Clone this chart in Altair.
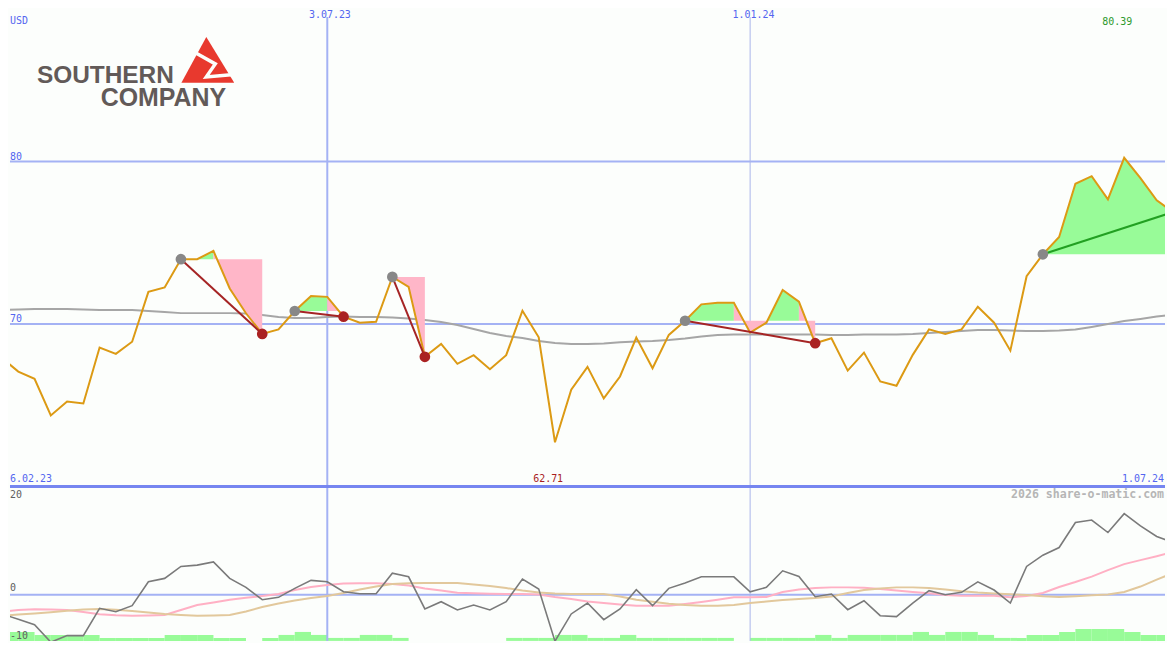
import altair as alt
import pandas as pd

W = 1175          # reference picture width
H_TOP = 487       # reference y of the panel separator
H_ALL = 650
M = 8             # page margin of the browser (both sides)
PW = W - 2 * M    # drawable panel width
H1 = H_TOP - M    # upper panel height
H2 = H_ALL - H_TOP - M   # lower panel height
PX_PER_USD = 16.3
PX_PER_OSC = 163 / 30.0

# weekly closes (USD), index 0..72
price = [67.90, 67.07, 66.63, 64.37, 65.23, 65.11, 68.55, 68.16, 68.91, 71.98,
         72.25, 73.99, 73.99, 74.50, 72.19, 70.66, 69.39, 69.67, 70.80, 71.72,
         71.67, 70.45, 70.08, 70.14, 72.90, 72.29, 67.98, 68.77, 67.55, 68.08,
         67.22, 68.08, 70.82, 69.18, 62.72, 65.95, 67.36, 65.42, 66.77, 69.16,
         67.28, 69.33, 70.20, 71.21, 71.31, 71.31, 69.47, 70.08, 72.09, 71.37,
         68.82, 69.12, 67.13, 68.24, 66.46, 66.20, 68.10, 69.67, 69.39, 69.67,
         71.06, 70.08, 68.36, 72.94, 74.29, 75.36, 78.63, 79.10, 77.67, 80.23,
         78.98, 77.61, 76.89]

# long moving average
ma = [70.86, 70.89, 70.92, 70.92, 70.92, 70.89, 70.86, 70.86, 70.86, 70.80,
      70.74, 70.67, 70.67, 70.67, 70.67, 70.64, 70.55, 70.43, 70.37, 70.37,
      70.43, 70.46, 70.43, 70.43, 70.40, 70.34, 70.25, 70.12, 69.94, 69.69,
      69.45, 69.26, 69.14, 68.96, 68.83, 68.77, 68.77, 68.80, 68.87, 68.93,
      68.96, 69.02, 69.11, 69.23, 69.33, 69.36, 69.36, 69.36, 69.36, 69.36,
      69.36, 69.33, 69.33, 69.36, 69.36, 69.36, 69.39, 69.45, 69.51, 69.57,
      69.63, 69.63, 69.60, 69.57, 69.57, 69.60, 69.66, 69.82, 70.00, 70.18,
      70.31, 70.46, 70.58]

# lower panel oscillators
osc = [-3.55, -4.53, -5.52, -8.76, -7.55, -7.55, -2.50, -3.13, -2.02, 2.39,
       3.02, 5.23, 5.47, 6.07, 3.02, 1.36, -0.92, -0.48, 1.18, 2.65,
       2.39, 0.55, 0.18, 0.18, 3.99, 3.31, -2.63, -1.29, -2.82, -1.90,
       -2.82, -1.29, 2.89, 1.05, -8.58, -3.55, -1.53, -4.60, -2.63, 0.92,
       -2.02, 1.18, 2.15, 3.31, 3.31, 3.31, 0.55, 1.36, 4.42, 3.39,
       -0.37, 0.13, -2.76, -1.10, -3.87, -4.05, -1.53, 0.74, 0.00, 0.44,
       2.39, 0.87, -1.53, 5.23, 7.31, 8.72, 13.33, 13.80, 11.49, 14.98,
       12.70, 10.75, 9.64]

osc_pink = [-3.13, -2.82, -2.69, -2.72, -2.82, -3.18, -3.59, -3.79, -3.87, -3.83,
            -3.74, -2.82, -1.90, -1.44, -0.92, -0.57, -0.24, 0.13, 0.87, 1.42,
            1.79, 2.08, 2.10, 2.10, 1.97, 1.69, 1.14, 0.77, 0.35, 0.26,
            0.17, 0.13, 0.13, 0.04, -0.42, -0.79, -1.25, -1.53, -1.80, -2.02,
            -2.02, -2.02, -1.71, -1.34, -0.92, -0.48, -0.48, -0.42, 0.50, 0.96,
            1.23, 1.36, 1.36, 1.27, 1.05, 0.77, 0.50, 0.26, -0.06, -0.18,
            -0.18, -0.20, -0.46, -0.24, 0.31, 1.42, 2.34, 3.35, 4.55, 5.65,
            6.39, 7.12, 7.91]

osc_tan = [-3.87, -3.64, -3.46, -3.24, -2.96, -2.72, -2.63, -2.76, -3.00, -3.28,
           -3.55, -3.74, -3.87, -3.83, -3.74, -3.09, -2.26, -1.62, -1.07, -0.61,
           -0.24, 0.31, 0.96, 1.51, 1.97, 2.12, 2.15, 2.15, 2.15, 1.91,
           1.60, 1.23, 0.77, 0.40, 0.22, 0.13, 0.13, 0.13, -0.33, -0.94,
           -1.31, -1.67, -1.90, -2.02, -2.02, -1.90, -1.53, -1.25, -0.98, -0.79,
           -0.61, -0.33, 0.31, 0.87, 1.14, 1.36, 1.36, 1.23, 0.96, 0.64,
           0.40, 0.24, 0.09, -0.06, -0.28, -0.42, -0.29, -0.11, 0.04, 0.50,
           1.51, 2.80, 3.99]

# volume level per week (interval i .. i+1)
vol = [3, 3, 2, 2, 2, 2, 1, 1, 1, 1,
       2, 2, 2, 1, 1, 0, 1, 2, 3, 2,
       1, 1, 2, 2, 1, 0, 0, 0, 0, 0,
       0, 1, 1, 1, 2, 2, 1, 1, 2, 1,
       1, 1, 1, 1, 1, 0, 1, 1, 1, 1,
       2, 1, 2, 2, 2, 2, 3, 2, 3, 3,
       2, 1, 1, 2, 2, 3, 4, 4, 4, 3,
       2, 2]

# signals: start index, end index, direction
sig_start = [11, 18, 24, 42, 64]
sig_end = [16, 21, 26, 50, 72]
sig_dir = ["down", "down", "down", "down", "up"]

grid_up = [70, 80]
grid_up_lbl = ["70", "80"]
grid_lo = [0]
lo_lbl_vals = ["20", "0", "-10"]
vline_idx = [20, 46]
vline_lbl = ["3.07.23", "1.01.24"]
start_lbl, end_lbl = "6.02.23", "1.07.24"
max_lbl, min_lbl = "80.39", "62.71"

N = len(price)
PX_PER_WEEK = W / (N - 1)
xs = alt.Scale(domain=[M / PX_PER_WEEK, (W - M) / PX_PER_WEEK], nice=False, zero=False)
ys1 = alt.Scale(domain=[60, 60 + H1 / PX_PER_USD], nice=False, zero=False)
ys2 = alt.Scale(domain=[20 - H2 / PX_PER_OSC, 20], nice=False, zero=False)
ysv = alt.Scale(domain=[0, H2 / 3.0], nice=False, zero=False)

df = pd.DataFrame({"i": list(range(N)), "price": price, "ma": ma,
                   "osc": osc, "pink": osc_pink, "tan": osc_tan})

# fill areas between price and signal level (runs of same colour merged)
rows = []
for k, (s, e) in enumerate(zip(sig_start, sig_end)):
    lvl = price[s]
    run = 0
    prev = None
    for i in range(s, e):
        kind = "up" if price[i + 1] >= lvl else "down"
        if prev is not None and kind != prev:
            run += 1
        prev = kind
        for j in (i, i + 1):
            rows.append({"g": f"{k}_{run}", "i": j, "p": price[j], "lvl": lvl, "kind": kind})
fill_df = pd.DataFrame(rows).drop_duplicates(subset=["g", "i"])

trows = []
drows = []
for k, (s, e, d) in enumerate(zip(sig_start, sig_end, sig_dir)):
    trows.append({"g": k, "i": s, "p": price[s], "dir": d})
    trows.append({"g": k, "i": e, "p": price[e], "dir": d})
    drows.append({"i": s, "p": price[s], "kind": "start"})
    if d == "down":
        drows.append({"i": e, "p": price[e], "kind": "end"})
trend_df = pd.DataFrame(trows)
dot_df = pd.DataFrame(drows)

X = alt.X("i:Q", scale=xs, axis=None)

font = "DejaVu Sans Mono"
BLUE = "#5466f0"
GRID = "#a4b2f4"


def txt(text, x, y, color, align="left", size=10, weight="normal", top=True):
    # x, y given in reference-picture pixels; converted to panel pixels
    yy = y - M if top else y - H_TOP
    xx = min(max(x - M, 0), PW - 1)
    return alt.Chart(pd.DataFrame({"t": [text]})).mark_text(
        font=font, fontSize=size, color=color, align=align, baseline="middle",
        fontWeight=weight
    ).encode(text="t:N", x=alt.value(xx), y=alt.value(yy))


# ---------------- upper panel ----------------
hgrid = alt.Chart(pd.DataFrame({"v": grid_up})).mark_rule(color=GRID, strokeWidth=2).encode(
    y=alt.Y("v:Q", scale=ys1, axis=None))
v1 = alt.Chart(pd.DataFrame({"i": [vline_idx[0]]})).mark_rule(color=GRID, strokeWidth=2).encode(
    x=X, y=alt.value(16 - M), y2=alt.value(H1))
v2 = alt.Chart(pd.DataFrame({"i": [vline_idx[1]]})).mark_rule(color="#aab6ea", strokeWidth=1).encode(
    x=X, y=alt.value(16 - M), y2=alt.value(H1))

ma_line = alt.Chart(df).mark_line(color="#a6a6a6", strokeWidth=2, clip=True).encode(
    x=X, y=alt.Y("ma:Q", scale=ys1, axis=None))

fill_up = alt.Chart(fill_df).transform_filter("datum.kind == 'up'").mark_area(
    color="#98fb98", opacity=1, clip=True).encode(
    x=X, y=alt.Y("p:Q", scale=ys1, axis=None), y2="lvl:Q", detail="g:N")
fill_dn = alt.Chart(fill_df).transform_filter("datum.kind == 'down'").mark_area(
    color="#ffb6c8", opacity=1, clip=True).encode(
    x=X, y=alt.Y("p:Q", scale=ys1, axis=None), y2="lvl:Q", detail="g:N")

price_line = alt.Chart(df).mark_line(color="#dc9a14", strokeWidth=2, clip=True).encode(
    x=X, y=alt.Y("price:Q", scale=ys1, axis=None))

trend_dn = alt.Chart(trend_df).transform_filter("datum.dir == 'down'").mark_line(
    color="#a52424", strokeWidth=2, clip=True).encode(
    x=X, y=alt.Y("p:Q", scale=ys1, axis=None), detail="g:N")
trend_up = alt.Chart(trend_df).transform_filter("datum.dir == 'up'").mark_line(
    color="#22a022", strokeWidth=2, clip=True).encode(
    x=X, y=alt.Y("p:Q", scale=ys1, axis=None), detail="g:N")

dots_s = alt.Chart(dot_df).transform_filter("datum.kind == 'start'").mark_circle(
    color="#888888", size=115, opacity=1, clip=True).encode(x=X, y=alt.Y("p:Q", scale=ys1, axis=None))
dots_e = alt.Chart(dot_df).transform_filter("datum.kind == 'end'").mark_circle(
    color="#aa2222", size=115, opacity=1, clip=True).encode(x=X, y=alt.Y("p:Q", scale=ys1, axis=None))

# logo
tri_path = "M-0.057,-0.868 L1,0.868 L-1,0.868 Z"
bolt_path = "M-0.52,-0.30 L0.283,0.151 L-0.057,0.642 L0.98,0.55"
logo_tri = alt.Chart(pd.DataFrame({"a": [0]})).mark_point(
    shape=tri_path, filled=True, color="#e8392e", size=2809, opacity=1).encode(
    x=alt.value(206.5 - M), y=alt.value(59 - M))
logo_bolt = alt.Chart(pd.DataFrame({"a": [0]})).mark_point(
    shape=bolt_path, filled=False, stroke="#fcfefc", strokeWidth=3.5, size=2809, opacity=1,
    strokeJoin="miter").encode(x=alt.value(206.5 - M), y=alt.value(59 - M))
logo_t1 = alt.Chart(pd.DataFrame({"t": ["SOUTHERN"]})).mark_text(
    font="Liberation Sans", fontWeight="bold", fontSize=24.5, color="#625a58",
    align="left", baseline="alphabetic").encode(text="t:N", x=alt.value(35 - M), y=alt.value(82 - M))
logo_t2 = alt.Chart(pd.DataFrame({"t": ["COMPANY"]})).mark_text(
    font="Liberation Sans", fontWeight="bold", fontSize=25, color="#625a58",
    align="left", baseline="alphabetic").encode(text="t:N", x=alt.value(99 - M), y=alt.value(105.5 - M))

up_texts = [
    txt("USD", 7, 20, BLUE),
    txt(grid_up_lbl[1], 6, 156, BLUE),
    txt(grid_up_lbl[0], 6, 319, BLUE),
    txt(vline_lbl[0], 329, 13.5, BLUE, align="center"),
    txt(vline_lbl[1], 754, 13.5, BLUE, align="center"),
    txt(max_lbl, 1119, 21, "#2e9a2e", align="center"),
    txt(start_lbl, 7, 479.5, BLUE),
    txt(min_lbl, 548, 479.5, "#a82020", align="center"),
    txt(end_lbl, 1172, 479.5, BLUE, align="right"),
]

upper = alt.layer(
    hgrid, v1, v2, ma_line, fill_up, fill_dn, price_line, trend_dn, trend_up,
    dots_s, dots_e, logo_tri, logo_bolt, logo_t1, logo_t2, *up_texts
).properties(width=PW, height=H1)

# ---------------- lower panel ----------------
vol_df = pd.DataFrame({"i": list(range(len(vol))), "i2": [k + 1 for k in range(len(vol))], "v": vol})
vol_bars = alt.Chart(vol_df).mark_rect(color="#98fb98", opacity=1, clip=True).encode(
    x=X, x2="i2:Q", y=alt.Y("v:Q", scale=ysv, axis=None), y2=alt.datum(0))

zero = alt.Chart(pd.DataFrame({"v": grid_lo})).mark_rule(color=GRID, strokeWidth=2).encode(
    y=alt.Y("v:Q", scale=ys2, axis=None))
lv1 = alt.Chart(pd.DataFrame({"i": [vline_idx[0]]})).mark_rule(color=GRID, strokeWidth=2).encode(
    x=X, y=alt.value(0), y2=alt.value(H2))
lv2 = alt.Chart(pd.DataFrame({"i": [vline_idx[1]]})).mark_rule(color="#aab6ea", strokeWidth=1).encode(
    x=X, y=alt.value(0), y2=alt.value(H2))
pink_line = alt.Chart(df).mark_line(color="#ffb0c4", strokeWidth=2, clip=True).encode(
    x=X, y=alt.Y("pink:Q", scale=ys2, axis=None))
tan_line = alt.Chart(df).mark_line(color="#e2c89c", strokeWidth=2, clip=True).encode(
    x=X, y=alt.Y("tan:Q", scale=ys2, axis=None))
osc_line = alt.Chart(df).mark_line(color="#7a7a7a", strokeWidth=1.6, clip=True).encode(
    x=X, y=alt.Y("osc:Q", scale=ys2, axis=None))
sep = alt.Chart(pd.DataFrame({"v": [20]})).mark_rule(color="#7686f0", strokeWidth=3).encode(
    y=alt.Y("v:Q", scale=ys2, axis=None))

lo_texts = [
    txt(lo_lbl_vals[0], 6, 496, "#606060", top=False),
    txt(lo_lbl_vals[1], 6, 589, "#606060", top=False),
    txt(lo_lbl_vals[2], 5, 637, "#606060", top=False),
    txt("2026 share-o-matic.com", 1172, 496, "#b6b6b6", align="right", size=11.6,
        weight="bold", top=False),
]

lower = alt.layer(
    vol_bars, zero, lv1, lv2, pink_line, tan_line, osc_line, sep, *lo_texts
).resolve_scale(y="independent").properties(width=PW, height=H2)

chart = alt.vconcat(upper, lower, spacing=0, bounds="flush").properties(
    padding=0,
    background="#fcfefc",
).configure_view(strokeWidth=0)

chart.save("out.html", embed_options={"renderer": "svg", "actions": False})
